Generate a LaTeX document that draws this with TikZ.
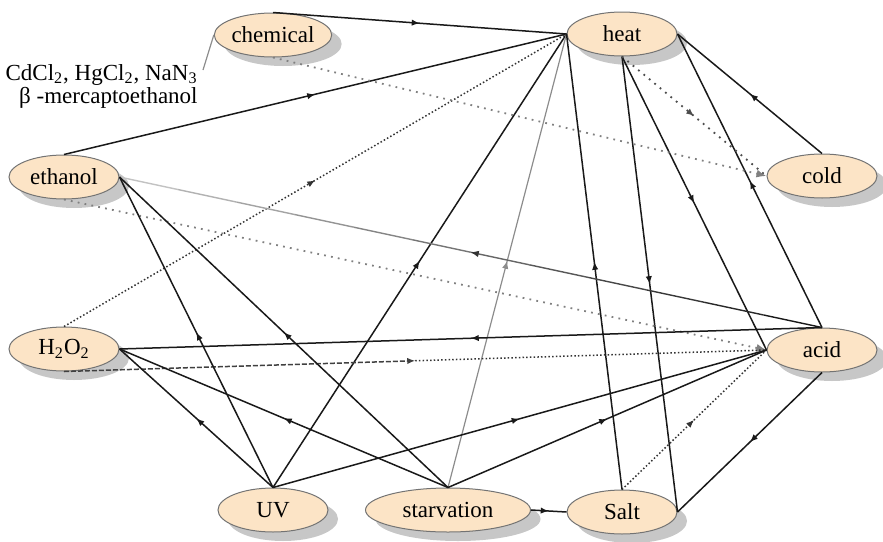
\documentclass[tikz,border=0pt]{standalone}
\usepackage{fontspec}
\setmainfont{Liberation Serif}
\usepackage{tikz}
\usetikzlibrary{shapes}
\usetikzlibrary{calc}
\usetikzlibrary{arrows.meta}
\usetikzlibrary{decorations.markings}
\usetikzlibrary{shadows}

\definecolor{nodefill}{RGB}{252,228,198}

\begin{document}
\begin{tikzpicture}[x=0.5pt, y=-0.5pt,
    factor/.style={ellipse, draw=black!55, line width=0.5pt, fill=nodefill,
        minimum width=55pt, minimum height=22pt, inner sep=0pt,
        font=\fontsize{11.5}{13}\selectfont,
        drop shadow={shadow xshift=5pt, shadow yshift=-4.5pt, fill=black!22, opacity=1}},
    link/.style={black!90, line width=0.75pt},
    faint/.style={black!45, line width=0.6pt},
    gdots/.style={black!50, line width=0.9pt, dash pattern=on 0.9pt off 2.6pt},
    ddots/.style={black!80, line width=0.75pt, dash pattern=on 0.75pt off 1.1pt},
    midarr/.style={postaction={decorate}, decoration={markings,
        mark=at position 0.5 with {\arrow{Latex[length=4pt,width=3.2pt]}}}},
    endarr/.style={-{Latex[length=5pt,width=4pt]}}]
    \useasboundingbox (0,0) rectangle (883,541);

    % Factors
    \node[factor] (chem) at (273,35) {chemical};
    \node[factor] (heat) at (622,34) {heat};
    \node[factor] (eth) at (64,177) {ethanol};
    \node[factor] (cold) at (822,176) {cold};
    \node[factor] (hoo) at (64,349) {H\textsubscript{2}O\textsubscript{2}};
    \node[factor] (acid) at (822,350) {acid};
    \node[factor] (uv) at (273,510) {UV};
    \node[factor, minimum width=82.5pt] (starv) at (448,510) {starvation};
    \node[factor] (salt) at (622,512) {Salt};

    % Chemical agents
    \node[anchor=north east, align=right, inner sep=0pt, font=\fontsize{11.5}{10}\selectfont]
        (agents) at (198,64) {CdCl\textsubscript{2}, HgCl\textsubscript{2}, NaN\textsubscript{3}\\ β -mercaptoethanol};
    \coordinate (agentpin) at (203,70);
    \draw[faint] (agentpin) -- (chem.west);

    % Links to heat
    \draw[link, midarr] (chem.north) -- (heat.west);
    \draw[link, midarr] (eth.north) -- (heat.west);
    \draw[ddots, midarr] (hoo.north) -- (heat.west);
    \draw[link, midarr] (uv.north) -- (heat.west);
    \draw[faint, midarr] (starv.north) -- (heat.west);
    \draw[link, midarr] (salt.north) -- (heat.west);
    \draw[link, midarr] (cold.north) -- (heat.east);
    \draw[link, midarr] (acid.north) -- (heat.east);
    \draw[link, midarr] (heat.south) -- (acid.west);
    \draw[link, midarr] (heat.south) -- (salt.east);
    \draw[gdots, black!70, midarr] (heat.south) -- (cold.west);

    % Dotted links
    \draw[gdots, endarr] (chem.south) -- (cold.west);
    \draw[gdots, endarr] (eth.south) -- (acid.west);
    \draw[ddots, midarr] (salt.north) -- (acid.west);
    \coordinate (hoomid) at ($(hoo.south)!0.5!(acid.west)$);
    \draw[black!75, line width=0.75pt, dash pattern=on 2.5pt off 1pt, -{Latex[length=4pt,width=3.2pt]}] (hoo.south) -- (hoomid);
    \draw[ddots] (hoomid) -- (acid.west);

    % Acid to ethanol, fading out
    \foreach \i in {0,...,11} {
        \pgfmathtruncatemacro\tone{90-6*\i}
        \draw[black!\tone, line width=0.7pt] ($(acid.north)!{\i/12}!(eth.east)$) -- ($(acid.north)!{(\i+1)/12}!(eth.east)$);
    }
    \path[black!80, midarr] (acid.north) -- (eth.east);

    % Other links
    \draw[link, midarr] (uv.north) -- (eth.east);
    \draw[link, midarr] (starv.north) -- (eth.east);
    \draw[link, midarr] (acid.north) -- (hoo.east);
    \draw[link, midarr] (uv.north) -- (hoo.east);
    \draw[link, midarr] (starv.north) -- (hoo.east);
    \draw[link, midarr] (uv.north) -- (acid.west);
    \draw[link, midarr] (starv.north) -- (acid.west);
    \draw[link, midarr] (starv.east) -- (salt.west);
    \draw[link, midarr] (acid.south) -- (salt.east);
\end{tikzpicture}
\end{document}
